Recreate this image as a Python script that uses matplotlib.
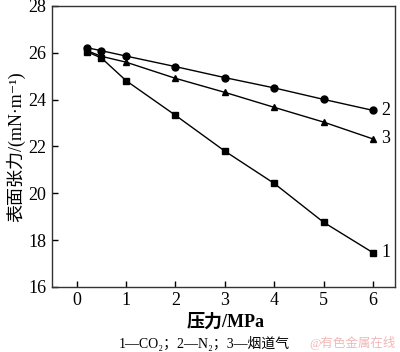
import numpy as np
import matplotlib
matplotlib.use('Agg')
from matplotlib import pyplot as plt

# Data
pressure = [0.2, 0.5, 1, 2, 3, 4, 5, 6]
st_co2 = [26.05, 25.78, 24.81, 23.33, 21.80, 20.42, 18.76, 17.46]
st_n2 = [26.22, 26.09, 25.86, 25.41, 24.94, 24.50, 24.01, 23.54]
st_flue = [26.10, 25.85, 25.60, 24.91, 24.31, 23.67, 23.04, 22.32]
curve_labels = ['1', '2', '3']
xticks = [0, 1, 2, 3, 4, 5, 6]
yticks = [16, 18, 20, 22, 24, 26, 28]

plt.rcParams['font.family'] = ['Liberation Serif', 'Noto Sans CJK SC', 'DejaVu Serif']

fig = plt.figure(figsize=(4.0, 3.52), dpi=100)
ax = fig.add_axes([0.13, 0.185, 0.858, 0.798])

series = [(st_co2, 's'), (st_n2, 'o'), (st_flue, '^')]
for (vals, mk), lab in zip(series, curve_labels):
    ax.plot(pressure, vals, color='black', lw=1.0, marker=mk, ms=5)
    ax.text(pressure[-1] + 0.17, vals[-1], lab, fontsize=13,
            ha='left', va='center')

ax.set_xlim(-0.5, 6.45)
ax.set_ylim(16, 28)
ax.set_xticks(xticks)
ax.set_yticks(yticks)
ax.tick_params(direction='in', length=4, width=1, labelsize=13, pad=4)
for sp in ax.spines.values():
    sp.set_linewidth(1.0)
    sp.set_color('#333333')

ax.set_ylabel('表面张力/(mN·m⁻¹)', fontsize=13, labelpad=2)
fig.text(0.565, 0.085, '压力/MPa', fontsize=13, ha='center', va='center',
         fontweight='bold')
fig.text(0.51, 0.025, '1—CO₂；2—N₂；3—烟道气', fontsize=10,
         ha='center', va='center')
fig.text(0.99, 0.025, '@有色金属在线', fontsize=9, ha='right', va='center',
         color='#f0b8b8')

fig.savefig('out.png', dpi=100)
